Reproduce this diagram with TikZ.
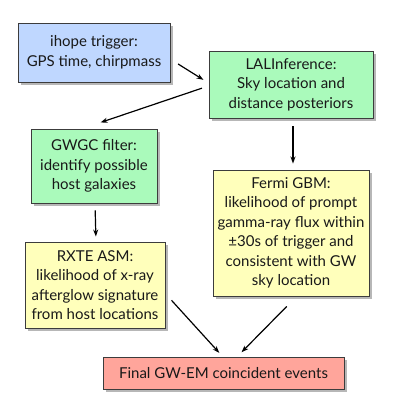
\documentclass[tikz,border=0pt]{standalone}
\usepackage{fontspec}
\setmainfont{Lato}
\usepackage{tikz}
\usetikzlibrary{positioning, arrows.meta, calc, shadows}
\definecolor{gwBlue}{RGB}{191,215,255}
\definecolor{gwGreen}{RGB}{170,250,187}
\definecolor{gwYellow}{RGB}{255,255,187}
\definecolor{gwRed}{RGB}{255,165,155}
\definecolor{gwBorder}{RGB}{60,60,60}

\begin{document}
\begin{tikzpicture}[x=1pt, y=-1pt,
	stage/.style={draw=gwBorder, line width=0.9pt, align=center, inner sep=2pt,
		font=\fontsize{15}{19.5}\selectfont, text=black!90,
		drop shadow={shadow xshift=3pt, shadow yshift=-3pt, opacity=0.4, fill=black!70}},
	link/.style={-{Stealth[length=7pt, width=5pt]}, line width=1.2pt}]
	\useasboundingbox (0,0) rectangle (415,415);
	\node[stage, fill=gwBlue, minimum width=152pt, minimum height=59pt] (ihope) at (94,52.5) {ihope trigger:\\GPS time, chirpmass};
	\node[stage, fill=gwGreen, minimum width=164pt, minimum height=67pt] (lal) at (291,84.5) {LALInference:\\Sky location and\\distance posteriors};
	\node[stage, fill=gwGreen, minimum width=126pt, minimum height=74pt] (gwgc) at (94,166) {GWGC filter:\\identify possible\\host galaxies};
	\node[stage, fill=gwYellow, minimum width=156pt, minimum height=126pt] (fermi) at (291,233) {Fermi GBM:\\likelihood of prompt\\gamma-ray flux within\\±30s of trigger and\\consistent with GW\\sky location};
	\node[stage, fill=gwYellow, minimum width=140pt, minimum height=86pt] (rxte) at (95,285) {RXTE ASM:\\likelihood of x-ray\\afterglow signature\\from host locations};
	\node[stage, fill=gwRed, minimum width=241pt, minimum height=32pt] (final) at (223.5,373) {Final GW-EM coincident events};
	\draw[link, shorten <=9pt, shorten >=6pt] (ihope.-5) -- (lal.179);
	\draw[link, shorten <=7pt, shorten >=19pt] (lal.181) -- (gwgc.107);
	\draw[link, shorten <=8pt, shorten >=6pt] ([xshift=2pt]lal.south) -- ([xshift=2pt]fermi.north);
	\draw[link, shorten <=7pt, shorten >=5pt] ([xshift=1pt]gwgc.south) -- ([xshift=1pt]rxte.north);
	\draw[link, shorten <=9pt, shorten >=5pt] (rxte.-7) -- (final.93);
	\draw[link, shorten <=14pt, shorten >=6pt] (fermi.-85) -- (final.50);
\end{tikzpicture}
\end{document}
